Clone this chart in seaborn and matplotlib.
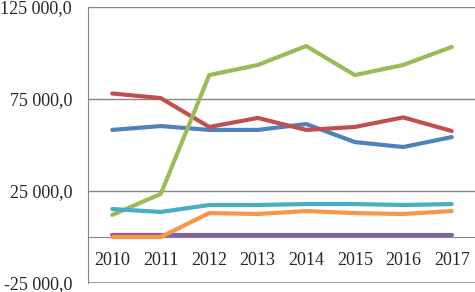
import pandas as pd
import numpy as np
import matplotlib
matplotlib.use("Agg")
import matplotlib.pyplot as plt
import seaborn as sns

# 데이터
years = [2010, 2011, 2012, 2013, 2014, 2015, 2016, 2017]
blue = [58200, 60300, 58200, 58200, 61400, 51600, 48900, 54300]
red = [78000, 75500, 59800, 64700, 58200, 59800, 65000, 57600]
green = [12000, 23400, 88000, 93500, 103800, 88000, 93500, 103300]
purple = [1000, 1000, 1000, 1000, 1000, 1000, 1000, 1000]
cyan = [15200, 13600, 17400, 17400, 17900, 17900, 17400, 17900]
orange = [0, 0, 13000, 12500, 14100, 13000, 12500, 14100]

series = {"s1": blue, "s2": red, "s3": green, "s4": purple, "s5": cyan, "s6": orange}
colors = ["#4F81BD", "#C0504D", "#9BBB59", "#8064A2", "#4BACC6", "#F79646"]

df = pd.DataFrame({"year": years, **series})
df = df.melt(id_vars="year", var_name="series", value_name="value")

sns.set_style("white")
plt.rcParams["font.family"] = ["Liberation Serif", "DejaVu Serif"]

fig = plt.figure(figsize=(4.75, 2.92), dpi=100)
ax = fig.add_axes([88 / 475, 9 / 292, 388 / 475, 276 / 292])

# 격자선
for v in [125000, 75000, 25000]:
    ax.axhline(v, color="#868686", lw=1, zorder=0)
ax.axhline(-25000, color="#868686", lw=1.2, zorder=0)

sns.lineplot(data=df, x="year", y="value", hue="series", palette=colors,
             lw=3, legend=False, ax=ax, zorder=3)

# 축선 위치 (0 위치) - 눈금 설정보다 먼저
for s in ["top", "right"]:
    ax.spines[s].set_visible(False)
ax.spines["left"].set_color("#868686")
ax.spines["bottom"].set_color("#868686")
ax.spines["bottom"].set_position(("data", 0))
ax.spines["bottom"].set_zorder(1)

ax.set_xlim(2009.5, 2017.5)
ax.set_ylim(-25000, 125000)
ax.set_yticks([-25000, 25000, 75000, 125000])
ax.set_yticklabels(["-25 000,0", "25 000,0", "75 000,0", "125 000,0"], fontsize=13)
ax.set_xticks(years)
ax.set_xticklabels([str(y) for y in years], fontsize=13)
ax.tick_params(axis="both", length=0)
ax.tick_params(axis="y", pad=11.5)
ax.tick_params(axis="x", pad=10.5)
ax.set_xlabel("")
ax.set_ylabel("")

fig.savefig("out.png", dpi=100)
